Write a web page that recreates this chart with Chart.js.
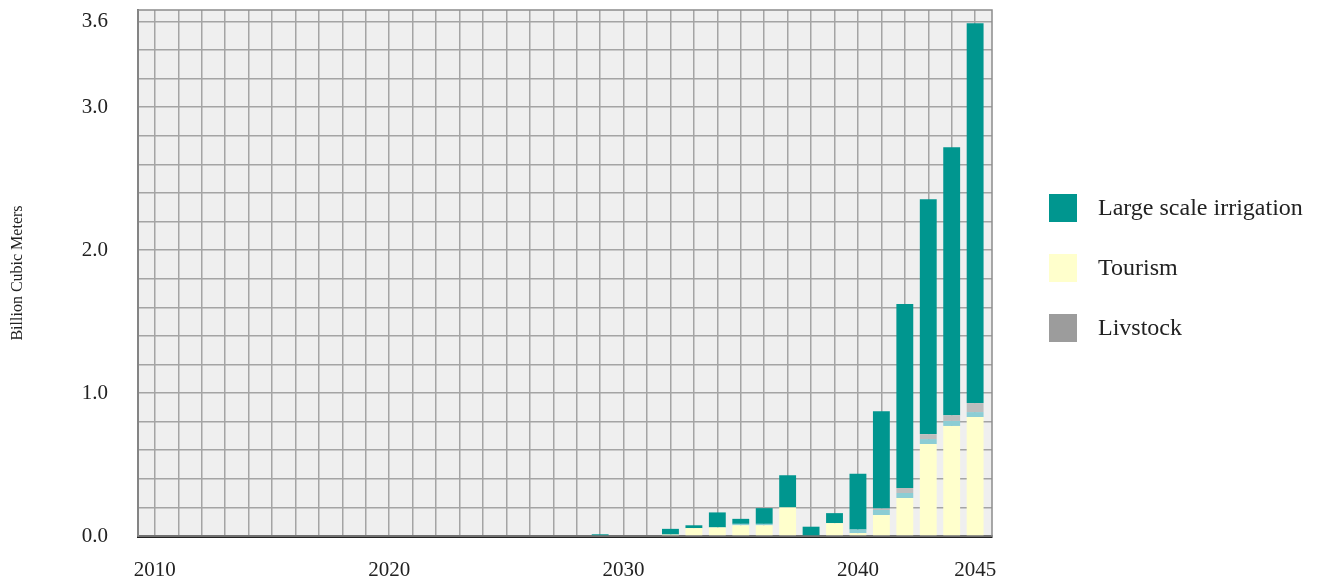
<!DOCTYPE html>
<html>
<head>
<meta charset="utf-8">
<script src="https://cdn.jsdelivr.net/npm/chart.js@4/dist/chart.umd.min.js"></script>
<style>
  html, body { margin: 0; padding: 0; background: #ffffff; }
  #wrap { width: 1318px; height: 585px; position: relative; }
</style>
</head>
<body>
<div id="wrap"><canvas id="chart"></canvas></div>
<script>
// Annual water demand by use, billion cubic meters
const years = [
  2010, 2011, 2012, 2013, 2014, 2015, 2016, 2017, 2018, 2019,
  2020, 2021, 2022, 2023, 2024, 2025, 2026, 2027, 2028, 2029,
  2030, 2031, 2032, 2033, 2034, 2035, 2036, 2037, 2038, 2039,
  2040, 2041, 2042, 2043, 2044, 2045
];
const tourism = [
  0, 0, 0, 0, 0, 0, 0, 0, 0, 0,
  0, 0, 0, 0, 0, 0, 0, 0, 0, 0,
  0, 0, 0.01, 0.055, 0.06, 0.075, 0.075, 0.2, 0, 0.09,
  0.02, 0.147, 0.266, 0.643, 0.77, 0.832
];
const otherUse = [
  0, 0, 0, 0, 0, 0, 0, 0, 0, 0,
  0, 0, 0, 0, 0, 0, 0, 0, 0, 0,
  0, 0, 0, 0, 0, 0.01, 0.01, 0, 0, 0,
  0.025, 0.035, 0.035, 0.035, 0.035, 0.035
];
const livestock = [
  0, 0, 0, 0, 0, 0, 0, 0, 0, 0,
  0, 0, 0, 0, 0, 0, 0, 0, 0, 0,
  0, 0, 0, 0, 0, 0, 0, 0, 0, 0,
  0, 0.01, 0.035, 0.035, 0.04, 0.063
];
const irrigation = [
  0, 0, 0, 0, 0, 0, 0, 0, 0, 0,
  0, 0, 0, 0, 0, 0, 0, 0, 0, 0.012,
  0, 0, 0.04, 0.02, 0.105, 0.035, 0.11, 0.225, 0.065, 0.07,
  0.39, 0.68, 1.287, 1.643, 1.874, 2.657
];
const yTickValues = [0, 1, 2, 3, 3.6];
const xTickLabels = [2010, 2020, 2030, 2040, 2045];

const SERIF = "'Liberation Serif', 'Times New Roman', serif";
const TEXT = '#222222';
const GRID = '#a4a4a4';

const toPoints = vals => years.map((yr, i) => ({ x: yr, y: vals[i] }));

// light plot background and a thin frame round the plot area
const plotFrame = {
  id: 'plotFrame',
  beforeDraw(chart) {
    const { ctx, chartArea: a } = chart;
    ctx.save();
    ctx.fillStyle = '#efefef';
    ctx.fillRect(a.left, a.top, a.right - a.left, a.bottom - a.top);
    ctx.restore();
  },
  beforeDatasetsDraw(chart) {
    const { ctx, chartArea: a } = chart;
    ctx.save();
    ctx.strokeStyle = '#8c8c8c';
    ctx.lineWidth = 1.5;
    ctx.strokeRect(a.left, a.top, a.right - a.left, a.bottom - a.top);
    ctx.restore();
  }
};

// legend column to the right of the plot
const sideLegend = {
  id: 'sideLegend',
  afterDraw(chart, args, opts) {
    const { ctx } = chart;
    ctx.save();
    ctx.font = opts.font;
    ctx.textBaseline = 'middle';
    ctx.textAlign = 'left';
    opts.order.forEach((dsIndex, i) => {
      const ds = chart.data.datasets[dsIndex];
      const top = opts.top + i * opts.spacing;
      ctx.fillStyle = ds.legendColor || ds.backgroundColor;
      ctx.fillRect(opts.left, top, opts.box, opts.box);
      ctx.fillStyle = opts.color;
      ctx.fillText(ds.label, opts.left + opts.box + opts.gap, top + opts.box / 2 + 1);
    });
    ctx.restore();
  }
};

new Chart(document.getElementById('chart'), {
  type: 'bar',
  data: {
    datasets: [
      { label: 'Tourism', data: toPoints(tourism), backgroundColor: '#ffffcc' },
      { label: 'Other', data: toPoints(otherUse), backgroundColor: '#8ccdd4' },
      { label: 'Livstock', data: toPoints(livestock), backgroundColor: '#bdbdbd', legendColor: '#9c9c9c' },
      { label: 'Large scale irrigation', data: toPoints(irrigation), backgroundColor: '#00968f' }
    ]
  },
  options: {
    responsive: true,
    maintainAspectRatio: false,
    animation: false,
    layout: { padding: { top: 10, right: 326, bottom: 0, left: 0 } },
    plugins: {
      legend: { display: false },
      tooltip: { enabled: false },
      sideLegend: {
        order: [3, 0, 2],
        left: 1049, top: 194, spacing: 60, box: 28, gap: 21,
        font: "24px " + SERIF, color: TEXT
      }
    },
    scales: {
      x: {
        type: 'linear',
        stacked: true,
        min: 2009.28,
        max: 2045.72,
        offset: false,
        afterBuildTicks: s => { s.ticks = years.map(v => ({ value: v })); },
        afterFit: s => { s.height = 49; },
        grid: { color: GRID, lineWidth: 1.5, drawTicks: false, offset: false },
        border: { color: '#222222', width: 3 },
        ticks: {
          autoSkip: false,
          maxRotation: 0,
          padding: 22,
          color: TEXT,
          font: { family: SERIF, size: 21 },
          callback: v => xTickLabels.includes(v) ? String(v) : ''
        }
      },
      y: {
        type: 'linear',
        stacked: true,
        min: 0,
        max: 3.68,
        afterBuildTicks: s => {
          const t = [];
          for (let k = 0; k <= 18; k++) t.push({ value: +(k * 0.2).toFixed(1) });
          s.ticks = t;
        },
        afterFit: s => { s.width = 138; },
        grid: { color: GRID, lineWidth: 1.5, drawTicks: true, tickLength: 30, tickColor: 'rgba(0,0,0,0)' },
        border: { color: '#6e6e6e', width: 2 },
        ticks: {
          padding: 0,
          color: TEXT,
          font: { family: SERIF, size: 21, lineHeight: 0.9 },
          callback: v => yTickValues.some(t => Math.abs(t - v) < 1e-6) ? v.toFixed(1) : ''
        },
        title: {
          display: true,
          text: 'Billion Cubic Meters',
          color: TEXT,
          font: { family: SERIF, size: 16 },
          padding: { top: 8, bottom: 0 }
        }
      }
    }
  },
  plugins: [plotFrame, sideLegend]
});
</script>
</body>
</html>
